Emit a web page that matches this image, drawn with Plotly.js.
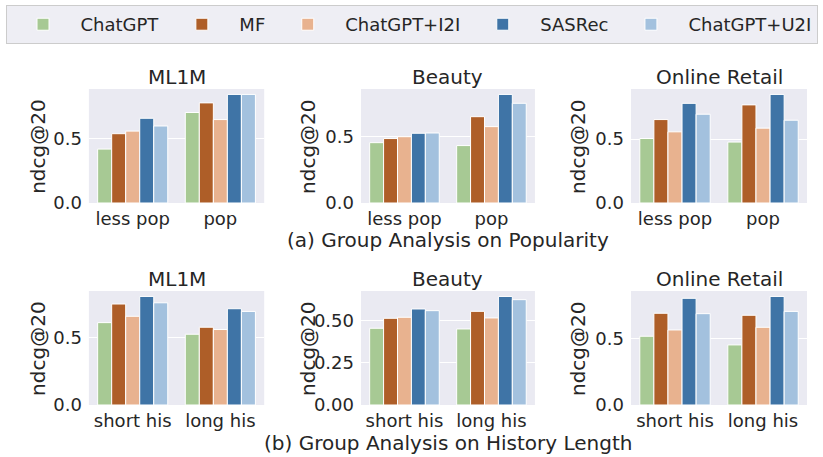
<!DOCTYPE html>
<html>
<head>
<meta charset="utf-8">
<script src="https://cdn.plot.ly/plotly-3.0.1.min.js"></script>
<style>
  html, body { margin: 0; padding: 0; background: #fff; }
  #chart { width: 823px; height: 457px; }
</style>
</head>
<body>
<div id="chart"></div>
<script>
// Valori: ndcg@20 per gruppo, 5 metodi.
const methods = ['ChatGPT', 'MF', 'ChatGPT+I2I', 'SASRec', 'ChatGPT+U2I'];
const colors = ['#a7c994', '#ae5e28', '#e8b28f', '#3f74a6', '#a3c1de'];

const datasets = ['ML1M', 'Beauty', 'Online Retail'];
const popGroups = ['less pop', 'pop'];
const hisGroups = ['short his', 'long his'];

// riga (a): popolarità — [metodo][gruppo]
const ml1mPop = [[0.42, 0.705], [0.54, 0.78], [0.56, 0.65], [0.66, 0.846], [0.60, 0.846]];
const beautyPop = [[0.455, 0.433], [0.486, 0.651], [0.50, 0.576], [0.526, 0.819], [0.528, 0.752]];
const retailPop = [[0.505, 0.477], [0.653, 0.768], [0.557, 0.586], [0.78, 0.85], [0.695, 0.648]];

// riga (b): lunghezza storia
const ml1mHis = [[0.61, 0.524], [0.748, 0.576], [0.657, 0.559], [0.804, 0.713], [0.757, 0.693]];
const beautyHis = [[0.453, 0.449], [0.512, 0.553], [0.518, 0.514], [0.567, 0.641], [0.557, 0.622]];
const retailHis = [[0.515, 0.45], [0.687, 0.672], [0.562, 0.582], [0.799, 0.813], [0.684, 0.701]];

const yLabel = 'ndcg@20';
const captionA = '(a) Group Analysis on Popularity';
const captionB = '(b) Group Analysis on History Length';

const FONT = 'DejaVu Sans, sans-serif';
const INK = '#262626';
const BG = '#eaeaf2';

const panels = [
    { name: datasets[0], groups: popGroups, values: ml1mPop, dtick: 0.5, fmt: '.1f' },
    { name: datasets[1], groups: popGroups, values: beautyPop, dtick: 0.5, fmt: '.1f' },
    { name: datasets[2], groups: popGroups, values: retailPop, dtick: 0.5, fmt: '.1f' },
    { name: datasets[0], groups: hisGroups, values: ml1mHis, dtick: 0.5, fmt: '.1f' },
    { name: datasets[1], groups: hisGroups, values: beautyHis, dtick: 0.25, fmt: '.2f' },
    { name: datasets[2], groups: hisGroups, values: retailHis, dtick: 0.5, fmt: '.1f' },
];

// domini in frazioni della pagina (823x457)
const xDomains = [[0.108, 0.321], [0.4386, 0.650], [0.7667, 0.9806]];
const yDomains = [[0.5558, 0.8053], [0.1138, 0.3632]];

const data = [];
const layout = {
    width: 823,
    height: 457,
    margin: { l: 0, r: 0, t: 0, b: 0, autoexpand: false },
    paper_bgcolor: '#ffffff',
    plot_bgcolor: BG,
    font: { family: FONT, color: INK, size: 18 },
    barmode: 'group',
    bargap: 0.2,
    bargroupgap: 0,
    showlegend: true,
    legend: {
        orientation: 'h',
        x: 0.5, xanchor: 'center',
        y: 0.989, yanchor: 'top',
        bgcolor: '#eeeef4',
        bordercolor: '#cccccc',
        borderwidth: 1,
        font: { family: FONT, size: 18, color: INK },
        itemwidth: 65,
    },
    annotations: [],
};

panels.forEach((p, i) => {
    const k = i + 1;
    const xa = 'x' + (k === 1 ? '' : k);
    const ya = 'y' + (k === 1 ? '' : k);
    let ymax = 0;
    p.values.forEach((vals, m) => {
        ymax = Math.max(ymax, ...vals);
        data.push({
            type: 'bar',
            name: methods[m],
            legendgroup: methods[m],
            showlegend: i === 0,
            x: p.groups,
            y: vals,
            xaxis: xa,
            yaxis: ya,
            marker: { color: colors[m], line: { color: '#ffffff', width: 1 } },
            hovertemplate: `%{x}: %{y:.3f}<extra>${methods[m]}</extra>`,
        });
    });
    const col = i % 3, row = Math.floor(i / 3);
    layout['xaxis' + (k === 1 ? '' : k)] = {
        domain: xDomains[col],
        anchor: ya,
        type: 'category',
        range: [-0.5, 1.5],
        showgrid: false,
        zeroline: false,
        ticks: '',
        ticklabelstandoff: 3,
        tickfont: { size: 18 },
        automargin: false,
        fixedrange: true,
    };
    layout['yaxis' + (k === 1 ? '' : k)] = {
        domain: yDomains[row],
        anchor: xa,
        range: [0, ymax * 1.05],
        dtick: p.dtick,
        tick0: 0,
        tickformat: p.fmt,
        showgrid: true,
        gridcolor: '#ffffff',
        gridwidth: 1,
        zeroline: false,
        ticks: '',
        ticklabelstandoff: 6,
        tickfont: { size: 18 },
        automargin: false,
        fixedrange: true,
    };
    // titolo del pannello
    layout.annotations.push({
        text: p.name,
        xref: 'paper', yref: 'paper',
        x: (xDomains[col][0] + xDomains[col][1]) / 2,
        y: yDomains[row][1],
        xanchor: 'center', yanchor: 'bottom',
        yshift: -2,
        showarrow: false,
        font: { size: 20, color: INK },
    });
    // etichetta asse y (ruotata), vicina ai tick come in matplotlib
    layout.annotations.push({
        text: yLabel,
        textangle: -90,
        xref: 'paper', yref: 'paper',
        x: xDomains[col][0],
        y: (yDomains[row][0] + yDomains[row][1]) / 2,
        xanchor: 'center', yanchor: 'middle',
        xshift: col === 0 ? -51 : -53,
        showarrow: false,
        font: { size: 20, color: INK },
    });
});

[captionA, captionB].forEach((t, r) => {
    layout.annotations.push({
        text: t,
        xref: 'paper', yref: 'paper',
        x: (xDomains[1][0] + xDomains[1][1]) / 2,
        y: r === 0 ? 1 - 240 / 457 : 1 - 443 / 457,
        xanchor: 'center', yanchor: 'middle',
        showarrow: false,
        font: { size: 20, color: INK },
    });
});

Plotly.newPlot('chart', data, layout, { displayModeBar: false, staticPlot: true });
</script>
</body>
</html>
